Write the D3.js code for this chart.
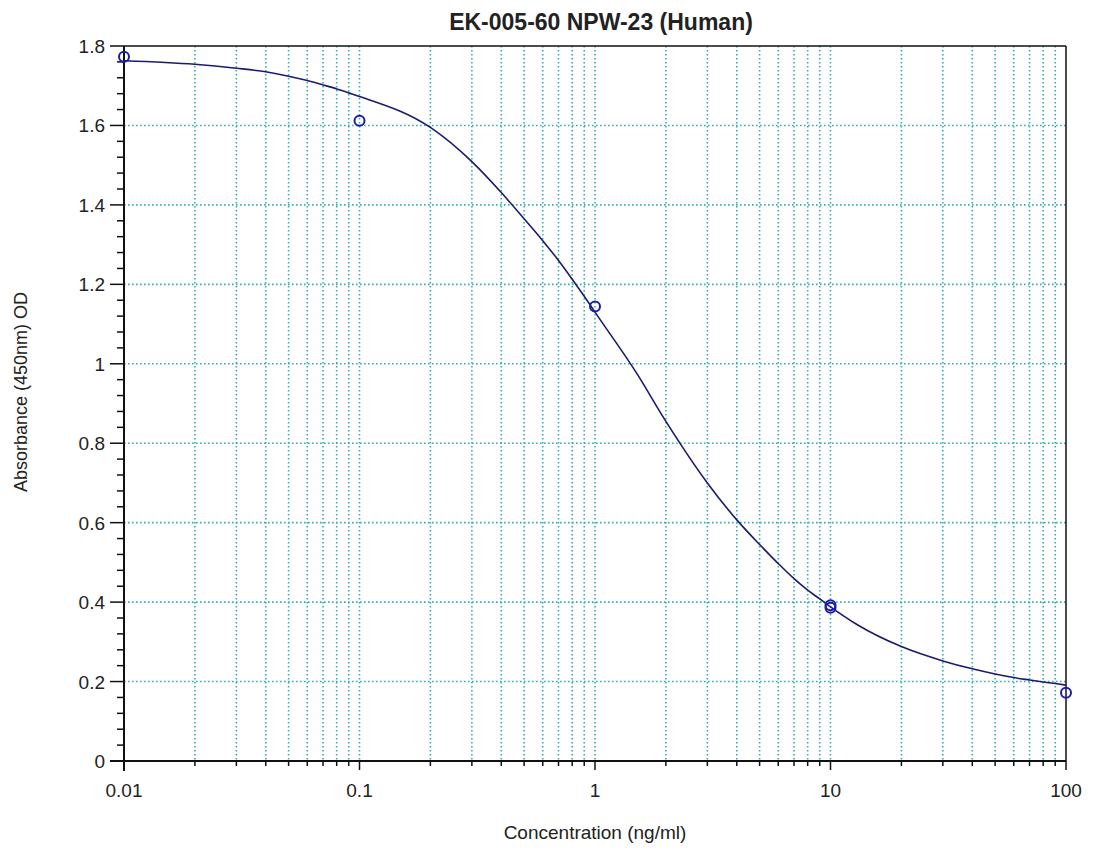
<!DOCTYPE html>
<html>
<head>
<meta charset="utf-8">
<script src="https://cdn.jsdelivr.net/npm/d3@7"></script>
<style>
  body { margin: 0; background: #fff; }
  text { font-family: "Liberation Sans", Arial, sans-serif; fill: #222; }
</style>
</head>
<body>
<svg id="chart" width="1094" height="850"></svg>
<script>
'use strict';

// standard points (concentration ng/ml, OD)
var stdConc = [0.01, 0.1, 1, 10, 10, 100];
var stdOD = [1.773, 1.612, 1.144, 0.392, 0.386, 0.172];

// fitted curve
var fitConc = [0.01, 0.02, 0.03, 0.04, 0.05, 0.06, 0.07, 0.08, 0.09, 0.1,
    0.2, 0.3, 0.4, 0.5, 0.6, 0.7, 0.8, 0.9, 1, 1.5, 2, 3, 4, 5, 6, 7, 8, 9, 10,
    13, 20, 30, 40, 50, 60, 70, 80, 90, 100];
var fitOD = [1.763, 1.754, 1.744, 1.735, 1.724, 1.713, 1.702, 1.692, 1.682, 1.673,
    1.595, 1.509, 1.431, 1.365, 1.310, 1.260, 1.213, 1.170, 1.130, 0.977, 0.855, 0.700,
    0.607, 0.545, 0.497, 0.459, 0.430, 0.408, 0.388,
    0.343, 0.288, 0.252, 0.232, 0.219, 0.210, 0.204, 0.199, 0.195, 0.191];

var xTicks = [0.01, 0.1, 1, 10, 100];
var yTicks = [0, 0.2, 0.4, 0.6, 0.8, 1, 1.2, 1.4, 1.6, 1.8];

var chartTitle = 'EK-005-60 NPW-23 (Human)';
var xTitle = 'Concentration (ng/ml)';
var yTitle = 'Absorbance (450nm) OD';

var plotLeft = 124, plotRight = 1066, plotTop = 46, plotBottom = 761;
var gridColor = '#34aeb4';
var curveColor = '#1b1b72';
var pointColor = '#1d1daa';

var svg = d3.select('#chart');

var x = d3.scaleLog().domain([0.01, 100]).range([plotLeft, plotRight]);
var y = d3.scaleLinear().domain([0, 1.8]).range([plotBottom, plotTop]);

// all log minor positions inside the domain
var logTicks = x.ticks();
var yMinor = d3.range(0, 1.8001, 0.04);

// grid
var grid = svg.append('g');
grid.selectAll('line.v')
    .data(logTicks.filter(function (d) { return d > 0.01 && d < 100; }))
    .enter()
    .append('line')
    .attr('x1', function (d) { return x(d); })
    .attr('x2', function (d) { return x(d); })
    .attr('y1', plotTop)
    .attr('y2', plotBottom)
    .attr('stroke', gridColor)
    .attr('stroke-width', 1.6)
    .attr('stroke-dasharray', '1.6,2.4');
grid.selectAll('line.h')
    .data(yTicks.filter(function (d) { return d > 0 && d < 1.8; }))
    .enter()
    .append('line')
    .attr('x1', plotLeft)
    .attr('x2', plotRight)
    .attr('y1', function (d) { return y(d); })
    .attr('y2', function (d) { return y(d); })
    .attr('stroke', gridColor)
    .attr('stroke-width', 1.6)
    .attr('stroke-dasharray', '1.6,2.4');

// frame top / right
svg.append('line').attr('x1', plotLeft).attr('x2', plotRight).attr('y1', plotTop).attr('y2', plotTop)
    .attr('stroke', '#111').attr('stroke-width', 1.5);
svg.append('line').attr('x1', plotRight).attr('x2', plotRight).attr('y1', plotTop).attr('y2', plotBottom)
    .attr('stroke', '#111').attr('stroke-width', 1.5);

// x axis
var xAxis = svg.append('g').attr('transform', 'translate(0,' + plotBottom + ')');
xAxis.append('line').attr('x1', plotLeft - 14).attr('x2', plotRight).attr('stroke', '#111').attr('stroke-width', 2);
xAxis.selectAll('line.t')
    .data(logTicks)
    .enter()
    .append('line')
    .attr('x1', function (d) { return x(d); })
    .attr('x2', function (d) { return x(d); })
    .attr('y1', 0)
    .attr('y2', function (d) { return xTicks.indexOf(d) >= 0 ? 9 : 5; })
    .attr('stroke', '#111')
    .attr('stroke-width', 1.5);
xAxis.selectAll('text')
    .data(xTicks)
    .enter()
    .append('text')
    .attr('x', function (d) { return x(d); })
    .attr('y', 36)
    .attr('text-anchor', 'middle')
    .style('font-size', '19px')
    .text(function (d) { return String(d); });

// y axis
var yAxis = svg.append('g').attr('transform', 'translate(' + plotLeft + ',0)');
yAxis.append('line').attr('y1', plotTop).attr('y2', plotBottom + 10).attr('stroke', '#111').attr('stroke-width', 2);
yAxis.selectAll('line.t')
    .data(yMinor)
    .enter()
    .append('line')
    .attr('x1', function (d, i) { return i % 5 === 0 ? -14 : -7; })
    .attr('x2', 0)
    .attr('y1', function (d) { return y(d); })
    .attr('y2', function (d) { return y(d); })
    .attr('stroke', '#111')
    .attr('stroke-width', 1.5);
yAxis.selectAll('text')
    .data(yTicks)
    .enter()
    .append('text')
    .attr('x', -19)
    .attr('y', function (d) { return y(d) + 7; })
    .attr('text-anchor', 'end')
    .style('font-size', '19px')
    .text(function (d) { return String(+d.toFixed(1)); });

// fitted curve
var line = d3.line()
    .x(function (d) { return x(d[0]); })
    .y(function (d) { return y(d[1]); })
    .curve(d3.curveMonotoneX);
svg.append('path')
    .datum(d3.zip(fitConc, fitOD))
    .attr('d', line)
    .attr('fill', 'none')
    .attr('stroke', curveColor)
    .attr('stroke-width', 1.6);

// points
svg.append('g').selectAll('circle')
    .data(d3.zip(stdConc, stdOD))
    .enter()
    .append('circle')
    .attr('cx', function (d) { return x(d[0]); })
    .attr('cy', function (d) { return y(d[1]); })
    .attr('r', 5)
    .attr('fill', 'none')
    .attr('stroke', pointColor)
    .attr('stroke-width', 2);

// titles
svg.append('text')
    .attr('x', 601)
    .attr('y', 30)
    .attr('text-anchor', 'middle')
    .style('font-size', '23px')
    .style('font-weight', 'bold')
    .text(chartTitle);
svg.append('text')
    .attr('x', (plotLeft + plotRight) / 2)
    .attr('y', 839)
    .attr('text-anchor', 'middle')
    .style('font-size', '19px')
    .text(xTitle);
svg.append('text')
    .attr('transform', 'translate(27,392) rotate(-90)')
    .attr('text-anchor', 'middle')
    .style('font-size', '18px')
    .text(yTitle);
</script>
</body>
</html>
